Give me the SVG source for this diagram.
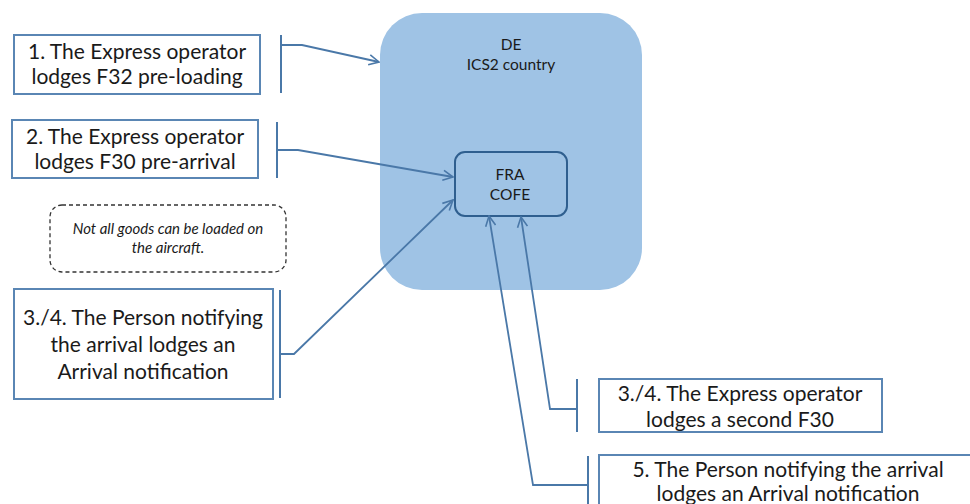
<svg xmlns="http://www.w3.org/2000/svg" width="970" height="504" viewBox="0 0 970 504">
<style>
.box{fill:#ffffff;stroke:#5a86b4;stroke-width:2}
.t{font-family:Lato,"Liberation Sans",sans-serif;font-size:21px;fill:#1a1a1a;text-anchor:middle}
.s{font-family:Lato,"Liberation Sans",sans-serif;font-size:15.5px;fill:#1a1a1a;text-anchor:middle}
.n{font-family:Lato,"Liberation Sans",sans-serif;font-size:15px;font-style:italic;fill:#1a1a1a;text-anchor:middle}
.c{fill:none;stroke:#4a78a8;stroke-width:1.8}
.br{fill:none;stroke:#4a78a8;stroke-width:2}
</style>
<defs>
<marker id="ah" viewBox="0 0 12 12" refX="11" refY="6" markerWidth="12" markerHeight="12" markerUnits="userSpaceOnUse" orient="auto">
<path d="M1,1 L11,6 L1,11" fill="none" stroke="#4a78a8" stroke-width="1.6"/>
</marker>
</defs>
<rect width="970" height="504" fill="#ffffff"/>
<g id="de">
<rect x="380" y="13" width="262" height="277" rx="42" fill="#9fc3e5"/>
<text class="s" x="511" y="50">DE</text>
<text class="s" x="511" y="70">ICS2 country</text>
</g>
<g id="fra">
<rect x="455" y="152" width="112" height="64" rx="10" fill="#9fc3e5" stroke="#2f5f8f" stroke-width="2"/>
<text class="s" x="510" y="180">FRA</text>
<text class="s" x="510" y="200">COFE</text>
</g>
<g id="n1">
<rect class="box" x="14" y="35" width="246" height="59"/>
<text class="t" x="137" y="59">1. The Express operator</text>
<text class="t" x="137" y="84">lodges F32 pre-loading</text>
</g>
<g id="n2">
<rect class="box" x="12" y="120" width="246" height="58"/>
<text class="t" x="135" y="144">2. The Express operator</text>
<text class="t" x="135" y="169">lodges F30 pre-arrival</text>
</g>
<g id="note">
<rect x="50" y="205" width="236" height="67" rx="12" fill="none" stroke="#333333" stroke-width="1.3" stroke-dasharray="4,3"/>
<text class="n" x="168" y="234">Not all goods can be loaded on</text>
<text class="n" x="168" y="253">the aircraft.</text>
</g>
<g id="n3">
<rect class="box" x="14" y="289" width="259" height="110"/>
<text class="t" x="143" y="325">3./4. The Person notifying</text>
<text class="t" x="143" y="352">the arrival lodges an</text>
<text class="t" x="143" y="379">Arrival notification</text>
</g>
<g id="n4">
<rect class="box" x="599" y="379" width="283" height="53"/>
<text class="t" x="740" y="401">3./4. The Express operator</text>
<text class="t" x="740" y="427">lodges a second F30</text>
</g>
<g id="n5">
<rect class="box" x="599" y="455" width="380" height="60"/>
<text class="t" x="788" y="477">5. The Person notifying the arrival</text>
<text class="t" x="788" y="501">lodges an Arrival notification</text>
</g>
<g id="connectors">
<path class="br" d="M281,35 V93"/>
<path class="c" d="M281,45 H302 L379,62" marker-end="url(#ah)"/>
<path class="br" d="M277,122 V178"/>
<path class="c" d="M277,150 H298 L453,177" marker-end="url(#ah)"/>
<path class="br" d="M280,290 V398"/>
<path class="c" d="M280,354 H294 L453,200" marker-end="url(#ah)"/>
<path class="br" d="M577,379 V432"/>
<path class="c" d="M577,409 H550 L521,217" marker-end="url(#ah)"/>
<path class="br" d="M588,456 V504"/>
<path class="c" d="M588,485 H533 L489,216" marker-end="url(#ah)"/>
</g>
</svg>
